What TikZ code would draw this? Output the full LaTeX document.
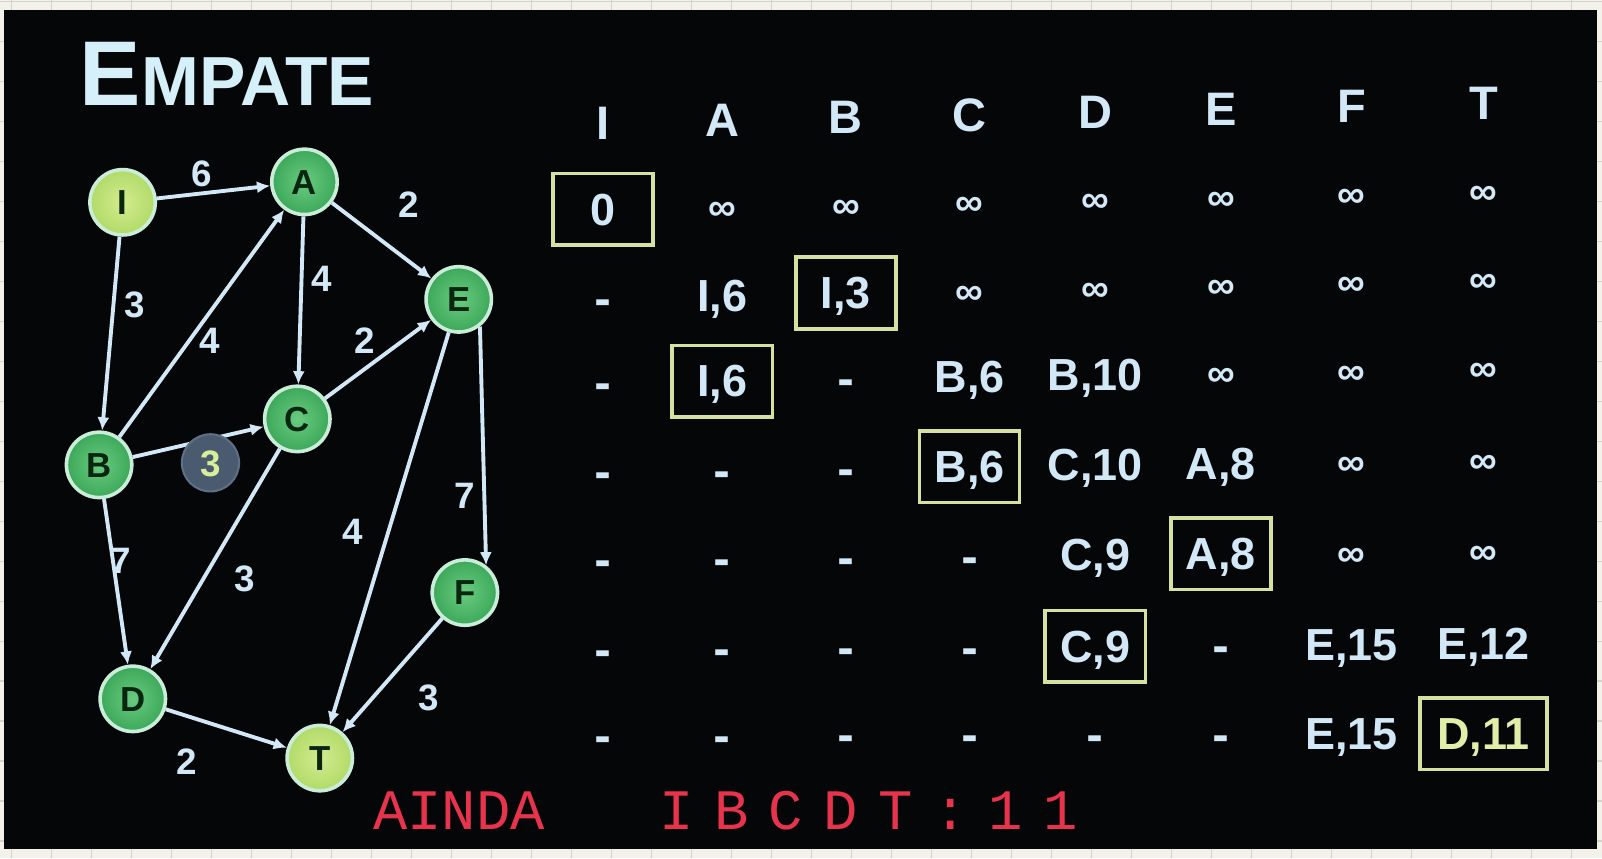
\documentclass[tikz,border=0pt]{standalone}
\usepackage{fontspec}
\setmainfont{Liberation Sans}
\newfontfamily\handfont{Liberation Mono}
\newfontfamily\symfont{DejaVu Sans}
\usetikzlibrary{arrows.meta}

\definecolor{paper}{HTML}{F3F1EA}
\definecolor{gridline}{HTML}{D4D4CC}
\definecolor{slide}{HTML}{050607}
\definecolor{ink}{HTML}{D2E8F6}
\definecolor{titleink}{HTML}{D6F0FA}
\definecolor{boxline}{HTML}{D4E2A0}
\definecolor{ring}{HTML}{C9EDD8}
\definecolor{vgreen}{HTML}{3CA85A}
\definecolor{vgreenlight}{HTML}{6ACB80}
\definecolor{vyellow}{HTML}{B2DA68}
\definecolor{vyellowlight}{HTML}{D2EC90}
\definecolor{letter}{HTML}{0A2610}
\definecolor{weightfill}{HTML}{4A5B70}
\definecolor{weightring}{HTML}{5E7088}
\definecolor{weighttext}{HTML}{D8EE9A}
\definecolor{finalink}{HTML}{E0EEA8}
\definecolor{marker}{HTML}{E8334D}

\newcommand\fs[1]{\fontsize{#1}{#1}\selectfont}
% small heavy symbols used in the table
\newcommand\infsym{{\bfseries\fs{38}\raisebox{2pt}{∞}}}
\newcommand\nosym{{\symfont\bfseries\fs{40}-}}

% column centres and row baselines of the distance table
\newcommand\colX[1]{\ifcase#1 590\or 707\or 828\or 949\or 1072\or 1195\or 1323\or 1452\fi}
\newcommand\rowY[1]{\ifcase#1 120\or 205\or 292\or 375\or 462\or 548\or 636\or 720\fi}
\newcommand\rowS[1]{\ifcase#1 -0.023\or -0.021\or -0.022\or -0.017\or -0.014\or -0.010\or -0.007\or -0.002\fi}

\newcommand\putcell[4][]{%
  \pgfmathsetmacro\cx{\colX{#2}}%
  \pgfmathsetmacro\cy{\rowY{#3}+(\rowS{#3})*(\colX{#2}-590)}%
  \node[entry,#1] (r#3c#2) at (\cx,\cy) {#4};}

\tikzset{
  vertex/.style={circle, minimum size=64pt, inner sep=0pt, draw=ring, line width=3.5pt,
    inner color=vgreenlight, outer color=vgreen, text=letter,
    font=\fs{34}\bfseries, text height=24pt, text depth=0pt},
  endpoint/.style={vertex, inner color=vyellowlight, outer color=vyellow},
  link/.style={draw=ink, line width=3.8pt, -{Latex[length=13pt,width=12pt]}},
  wlabel/.style={text=ink, font=\fs{36}\bfseries, inner sep=0pt, text height=26pt, text depth=0pt},
  entry/.style={text=ink, font=\fs{44}\bfseries, inner sep=0pt, text height=31pt, text depth=0pt},
  header/.style={font=\fs{46}\bfseries, text height=33pt},
  chosen/.style={draw=boxline, line width=3.5pt, minimum width=98pt, minimum height=70pt},
  note/.style={text=marker, font=\handfont\fs{56}, inner sep=0pt, anchor=base west}
}

\begin{document}
\begin{tikzpicture}[x=1pt,y=-1pt]
\useasboundingbox (0,0) rectangle (1568,840);

% grid paper behind the slide
\fill[paper] (0,0) rectangle (1568,840);
\foreach \i in {0,...,40} \draw[gridline,line width=1pt] ({11.7+39.15*\i},0) -- ++(0,840);
\foreach \j in {0,...,21} \draw[gridline,line width=1pt] (0,{1+39.15*\j}) -- ++(1568,0);
\fill[slide] (4,10) rectangle (1563,831);

% title
\node[anchor=base west, text=titleink, inner sep=0pt] (title) at (78,103)
  {\bfseries\fs{90}E\fs{68}MPATE};

% graph vertices
\node[endpoint] (I) at (120,198) {I};
\node[vertex] (A) at (298,178) {A};
\node[vertex] (E) at (449,293) {E};
\node[vertex] (C) at (291,410) {C};
\node[vertex] (B) at (97,455) {B};
\node[vertex] (D) at (130,684) {D};
\node[vertex] (F) at (455,580) {F};
\node[endpoint] (T) at (313,742) {T};

% directed edges
\draw[link] (I) -- (A);
\draw[link] (A) -- (E);
\draw[link] (I) -- (B);
\draw[link] (B) -- (A);
\draw[link] (A) -- (C);
\draw[link] (C) -- (E);
\draw[link] (B) -- (C);
\draw[link] (B) -- (D);
\draw[link] (C) -- (D);
\draw[link] (E) -- (T);
\draw[link] (E.-52) -- (F.52);
\draw[link] (F) -- (T);
\draw[link] (D) -- (T);

% edge weights
\node[circle, minimum size=56pt, inner sep=0pt, fill=weightfill, draw=weightring, line width=2pt,
  text=weighttext, font=\fs{36}\bfseries, text height=26pt, text depth=0pt] (wBC) at (206,453) {3};
\node[wlabel] (wIA) at (197,170) {6};
\node[wlabel] (wAE) at (400,200) {2};
\node[wlabel] (wAC) at (315,272) {4};
\node[wlabel] (wIB) at (132,298) {3};
\node[wlabel] (wBA) at (205,333) {4};
\node[wlabel] (wCE) at (357,333) {2};
\node[wlabel] (wBD) at (118,548) {7};
\node[wlabel] (wCD) at (240,566) {3};
\node[wlabel] (wET) at (345,520) {4};
\node[wlabel] (wEF) at (455,485) {7};
\node[wlabel] (wFT) at (420,682) {3};
\node[wlabel] (wDT) at (183,745) {2};

% distance table: header
\putcell[header]{0}{0}{I}
\putcell[header]{1}{0}{A}
\putcell[header]{2}{0}{B}
\putcell[header]{3}{0}{C}
\putcell[header]{4}{0}{D}
\putcell[header]{5}{0}{E}
\putcell[header]{6}{0}{F}
\putcell[header]{7}{0}{T}
% step 1
\putcell[chosen]{0}{1}{0}
\foreach \c in {1,...,7} {\putcell{\c}{1}{\infsym}}
% step 2
\putcell{0}{2}{\nosym}
\putcell{1}{2}{I,6}
\putcell[chosen]{2}{2}{I,3}
\foreach \c in {3,...,7} {\putcell{\c}{2}{\infsym}}
% step 3
\putcell{0}{3}{\nosym}
\putcell[chosen]{1}{3}{I,6}
\putcell{2}{3}{\nosym}
\putcell{3}{3}{B,6}
\putcell{4}{3}{B,10}
\foreach \c in {5,6,7} {\putcell{\c}{3}{\infsym}}
% step 4
\foreach \c in {0,1,2} {\putcell{\c}{4}{\nosym}}
\putcell[chosen]{3}{4}{B,6}
\putcell{4}{4}{C,10}
\putcell{5}{4}{A,8}
\foreach \c in {6,7} {\putcell{\c}{4}{\infsym}}
% step 5
\foreach \c in {0,...,3} {\putcell{\c}{5}{\nosym}}
\putcell{4}{5}{C,9}
\putcell[chosen]{5}{5}{A,8}
\foreach \c in {6,7} {\putcell{\c}{5}{\infsym}}
% step 6
\foreach \c in {0,...,3} {\putcell{\c}{6}{\nosym}}
\putcell[chosen]{4}{6}{C,9}
\putcell{5}{6}{\nosym}
\putcell{6}{6}{E,15}
\putcell{7}{6}{E,12}
% step 7
\foreach \c in {0,...,5} {\putcell{\c}{7}{\nosym}}
\putcell{6}{7}{E,15}
\putcell[chosen, minimum width=124pt, text=finalink]{7}{7}{D,11}

% handwritten notes
\node[note] (ainda) at (365,812) {AINDA};
\node[note] (path) at (645,812) {\addfontfeature{LetterSpace=36}IBCDT:11};
\end{tikzpicture}
\end{document}
